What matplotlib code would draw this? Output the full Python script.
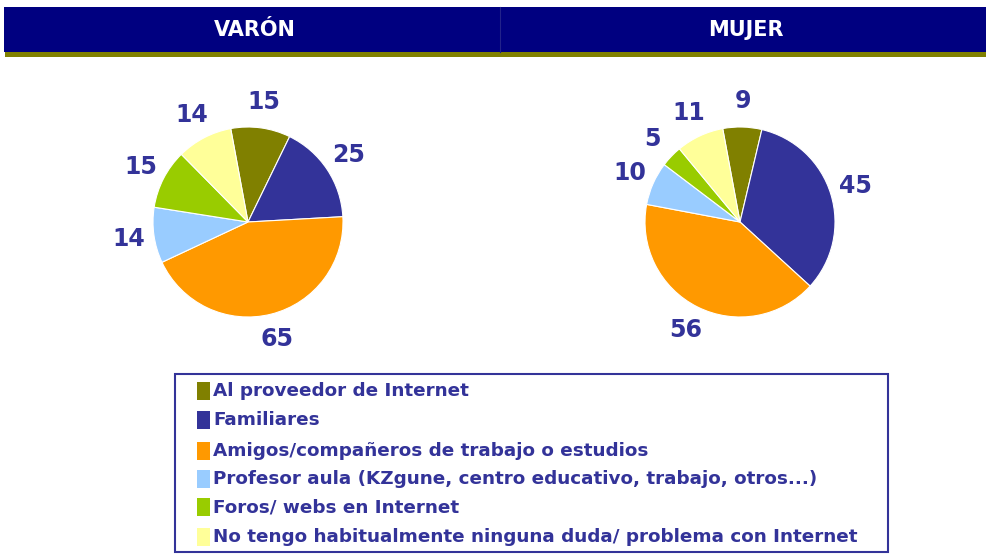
import matplotlib
matplotlib.use("Agg")
import matplotlib.pyplot as plt
from matplotlib.patches import Rectangle

W, H = 986, 558
categories = ["Al proveedor de Internet", "Familiares",
              "Amigos/compañeros de trabajo o estudios",
              "Profesor aula (KZgune, centro educativo, trabajo, otros...)",
              "Foros/ webs en Internet",
              "No tengo habitualmente ninguna duda/ problema con Internet"]
varon = [15, 25, 65, 14, 15, 14]
mujer = [9, 45, 56, 10, 5, 11]
titles = ["VARÓN", "MUJER"]
colors = ["#808000", "#333399", "#FF9900", "#99CCFF", "#99CC00", "#FFFF99"]
navy = "#333399"

fig = plt.figure(figsize=(W / 100, H / 100), dpi=100)

def fx(x):
    return x / W

def fy(y):
    return 1 - y / H

# header band
fig.patches.append(Rectangle((fx(4), fy(52)), fx(982), 45 / H, transform=fig.transFigure,
                             facecolor="#000080", edgecolor="none", zorder=0))
fig.patches.append(Rectangle((fx(5), fy(57)), fx(981), 5 / H, transform=fig.transFigure,
                             facecolor="#808000", edgecolor="none", zorder=0))
fig.lines.append(plt.Line2D([fx(500), fx(500)], [fy(7), fy(52)], transform=fig.transFigure,
                            color="#22228a", lw=0.8))
for t, x in zip(titles, [255, 746]):
    fig.text(fx(x), fy(30), t, color="white", fontsize=15, fontweight="bold",
             ha="center", va="center")

r = 95
lim = 1.45
for vals, cx in [(varon, 248), (mujer, 740)]:
    cy = 222
    half = r * lim
    ax = fig.add_axes([fx(cx - half), fy(cy + half), 2 * half / W, 2 * half / H])
    ax.pie(vals, colors=colors, startangle=100.5, counterclock=False,
           labels=[str(v) for v in vals], labeldistance=1.27,
           wedgeprops=dict(edgecolor="white", linewidth=0.8),
           textprops=dict(color=navy, fontsize=17, fontweight="bold",
                          ha="center", va="center"))
    ax.set_xlim(-lim, lim)
    ax.set_ylim(-lim, lim)
    ax.set_aspect("equal")
    ax.axis("off")

# legend box
fig.patches.append(Rectangle((fx(175), fy(552)), fx(713), 178 / H, transform=fig.transFigure,
                             facecolor="white", edgecolor=navy, linewidth=1.5, zorder=1))
rows = [391, 420, 451, 479, 507, 537]
for c, lab, y in zip(colors, categories, rows):
    fig.patches.append(Rectangle((fx(197), fy(y + 9)), 13 / W, 18 / H, transform=fig.transFigure,
                                 facecolor=c, edgecolor="none", zorder=2))
    fig.text(fx(213), fy(y), lab, color=navy, fontsize=13.2, fontweight="bold",
             ha="left", va="center", zorder=3)

fig.savefig("out.png", dpi=100)
